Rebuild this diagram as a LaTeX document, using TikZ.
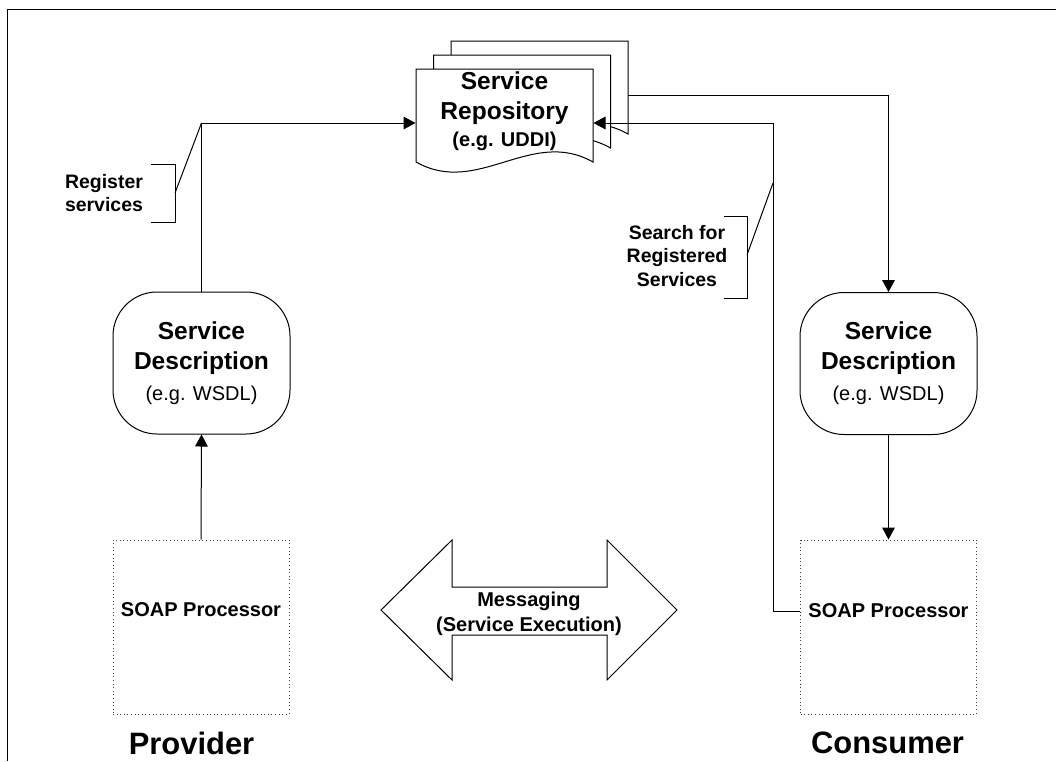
\documentclass[tikz,border=0pt]{standalone}
\usepackage{fontspec}
\setmainfont{Liberation Sans}
\usetikzlibrary{arrows.meta}

% one sheet of the stacked-document symbol: left x, top y (pixel grid, y down)
\newcommand\docsheet[2]{%
  \filldraw[sheet] (#1,#2) -- (#1,{#2+93})
    .. controls ({#1+62},{#2+128}) and ({#1+115},{#2+58}) .. ({#1+177},{#2+93})
    -- ({#1+177},#2) -- cycle;}

\begin{document}
\begin{tikzpicture}[x=0.75pt,y=-0.75pt,
  line width=0.75pt,
  >={Triangle[length=9pt,width=9.5pt]},
  sheet/.style={draw=black,fill=white,line width=0.75pt},
  conn/.style={draw=black,line width=0.75pt},
  bigtxt/.style={font=\fontsize{18.4}{22.5}\selectfont\bfseries,align=center},
  desc/.style={draw=black,fill=white,rounded corners=33pt,
    minimum width=132.75pt,minimum height=106.5pt,inner sep=0pt,
    font=\fontsize{18.4}{22.5}\selectfont\bfseries,align=center},
  soapbox/.style={draw=black!75,dotted,line width=0.7pt,
    minimum width=132pt,minimum height=130.5pt,inner sep=0pt},
  soaptxt/.style={font=\fontsize{15}{18}\selectfont\bfseries,inner sep=0pt},
  note/.style={font=\fontsize{14.6}{17.3}\selectfont\bfseries,align=center,inner sep=0pt},
  role/.style={font=\fontsize{23.2}{27}\selectfont\bfseries,inner sep=0pt},
  msgtxt/.style={font=\fontsize{15}{18.5}\selectfont\bfseries,align=center,inner sep=0pt}]

\useasboundingbox (0,0) rectangle (1056,761);

% page frame
\draw[line width=1.1pt] (7.5,761) -- (7.5,9.5) -- (1056,9.5);

% service repository: three stacked sheets
\docsheet{451}{41}
\docsheet{433.5}{55}
\docsheet{416}{69}
\node[bigtxt,minimum width=132.75pt,inner sep=0pt] (repo) at (504.5,111)
  {Service\\Repository\\[-2pt]{\fontsize{15}{18}\selectfont(e.g. UDDI)}};

% service descriptions
\node[desc] (sd1) at (201.5,363)
  {Service\\Description\\[1pt]{\mdseries\fontsize{15}{18}\selectfont(e.g. WSDL)}};
\node[desc] (sd2) at (888.5,363.5)
  {Service\\Description\\[1pt]{\mdseries\fontsize{15}{18}\selectfont(e.g. WSDL)}};

% SOAP processors
\node[soapbox] (soap1) at (201,627) {};
\node[soaptxt] (soap1txt) at (201,610) {SOAP Processor};
\node[soapbox] (soap2) at (888.5,627) {};
\node[soaptxt] (soap2txt) at (888.5,611) {SOAP Processor};

% messaging double arrow
\draw[sheet] (381,610) -- (452,540) -- (452,587) -- (607,587) -- (607,540)
  -- (677,610) -- (607,680) -- (607,635) -- (452,635) -- (452,680) -- cycle;
\node[msgtxt] (msg) at (529,614) {Messaging\\(Service Execution)};

% roles
\node[role] (prov) at (191.5,743) {Provider};
\node[role] (cons) at (887.5,743) {Consumer};

% bend points of the connectors
\coordinate (regbend) at (201.5,123);
\coordinate (srchbend) at (773,123);
\coordinate (backout) at (628,95);
\coordinate (srchtip) at (773,183);

% connectors
\draw[conn,->] (sd1.north) -- (regbend) -- (repo.west |- regbend);
\draw[conn,->] (soap1.north) -- (sd1.south);
\draw[conn,->] (backout) -| (sd2.north);
\draw[conn,->] (sd2.south) -- (soap2.north);
\draw[conn,->] (soap2.west |- soap2txt) -| (srchbend) -- (repo.east |- srchbend);

% callout: register services
\node[note] (regnote) at (104,193) {Register\\services};
\coordinate (regbr) at (175,193);
\draw[conn] (151,164) -- (175,164) -- (175,222) -- (151,222);
\draw[conn] (regbr) -- (regbend);

% callout: search for registered services
\node[note] (srchnote) at (677,256) {Search for\\Registered\\Services};
\coordinate (srchbr) at (747,255);
\draw[conn] (724,216) -- (747,216) -- (747,298) -- (724,298);
\draw[conn] (srchbr) -- (srchtip);

\end{tikzpicture}
\end{document}
